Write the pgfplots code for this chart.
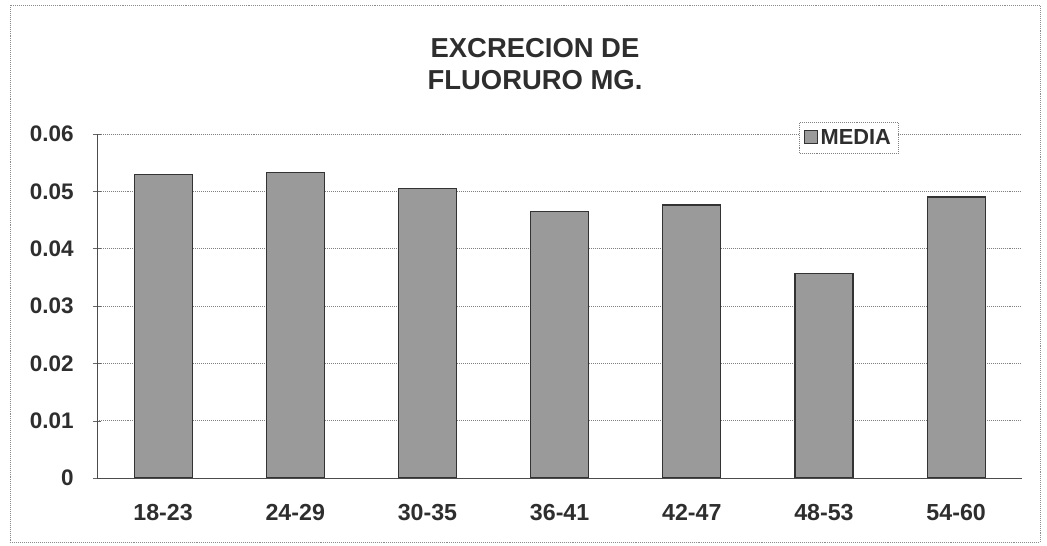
\documentclass[border=0pt]{standalone}
\usepackage{fontspec}
\setmainfont{Liberation Sans}
\usepackage{pgfplots}
\pgfplotsset{compat=1.18}
\definecolor{barfill}{HTML}{9A9A9A}
\definecolor{txt}{HTML}{2E2E2E}

\begin{document}
\begin{tikzpicture}[x=0.025cm,y=0.025cm]
\begin{axis}[
  at={(0,0)}, anchor=south west,
  scale only axis,
  width=23.125cm, height=8.6cm,
  xmin=-0.5, xmax=6.5, ymin=0, ymax=0.06,
  axis lines=left, axis line style={black!70, -},
  xtick={0,...,6},
  xticklabels={18-23,24-29,30-35,36-41,42-47,48-53,54-60},
  major x tick style={draw=none},
  extra x ticks={-0.5,0.5,1.5,2.5,3.5,4.5,5.5,6.5},
  extra x tick labels={},
  extra x tick style={major tick length=8pt, tick align=center, tick style={black!60}},
  ytick={0,0.01,...,0.06},
  yticklabels={0,0.01,0.02,0.03,0.04,0.05,0.06},
  scaled y ticks=false,
  ytick style={black!60}, major tick length=6pt,
  ymajorgrids, grid style={densely dotted, black!50},
  xticklabel style={font=\bfseries\fontsize{16.5}{19}\selectfont, text=txt, yshift=-12pt},
  yticklabel style={font=\bfseries\fontsize{16}{19}\selectfont, text=txt, xshift=-10pt},
  legend style={at={(0.866,1.035)}, anchor=north east, draw=black!50, densely dotted,
    font=\bfseries\fontsize{15.5}{18}\selectfont, text=txt, inner sep=3pt,
    legend image code/.code={\draw[fill=barfill, draw=black!80, solid] (0,-0.15cm) rectangle (0.32cm,0.19cm);}},
  legend cell align=left,
]
  \addplot[ybar, bar width=1.45cm, fill=barfill, draw=black!80, line width=0.8pt]
    coordinates {(0,0.0529) (1,0.0532) (2,0.0505) (3,0.0464) (4,0.0476) (5,0.0357) (6,0.0490)};
  \legend{MEDIA}
\end{axis}
\node[font=\bfseries\fontsize{19.5}{23}\selectfont, text=txt, align=center] at (438,414) {EXCRECION DE\\FLUORURO MG.};
\draw[black!45, densely dotted] (-87,473) rectangle (943,-64);
\pgfresetboundingbox
\useasboundingbox (-97,478) rectangle (950,-68);
\end{tikzpicture}
\end{document}
